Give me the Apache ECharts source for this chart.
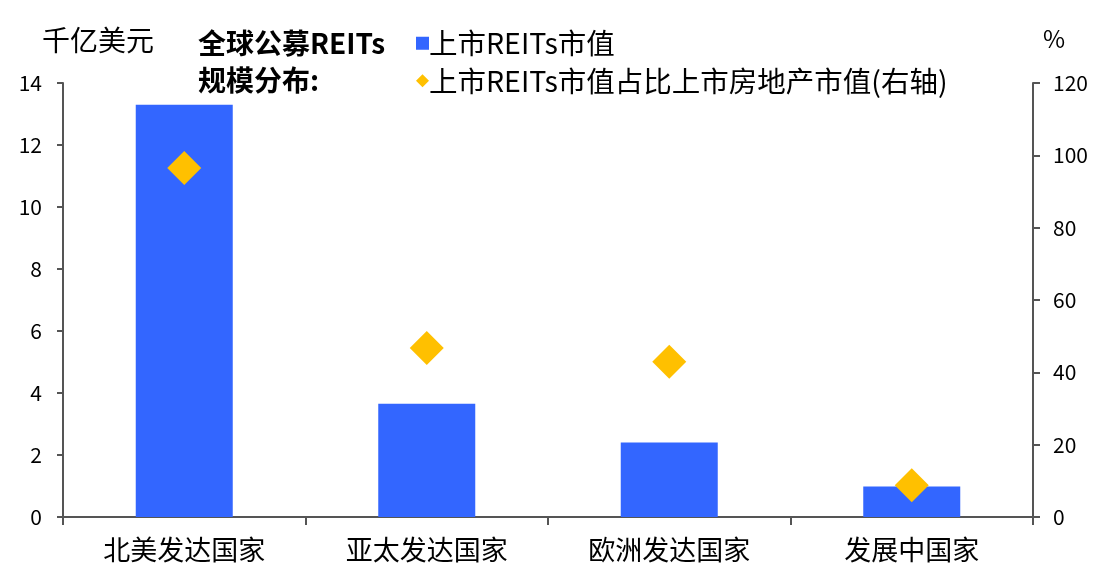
<!DOCTYPE html>
<html><head><meta charset="utf-8">
<script src="https://cdn.jsdelivr.net/npm/echarts@6/dist/echarts.min.js"></script>
<style>html,body{margin:0;padding:0;background:#fff}#c{width:1099px;height:571px}</style>
</head><body><div id="c"></div>
<script>
var categories = ['北美发达国家', '亚太发达国家', '欧洲发达国家', '发展中国家'];
var marketCap = [13.3, 3.65, 2.4, 0.98];
var shareOfRealEstate = [96.5, 46.7, 42.9, 8.8];
var leftTicks = {min: 0, max: 14, interval: 2};
var rightTicks = {min: 0, max: 120, interval: 20};
var seriesNames = ['上市REITs市值', '上市REITs市值占比上市房地产市值(右轴)'];

var FONT = '"Noto Sans CJK SC", "Noto Sans", sans-serif';
var axisLine = {show: true, lineStyle: {color: '#555', width: 2}};
var chart = echarts.init(document.getElementById('c'));
chart.setOption({
  backgroundColor: '#fff',
  animation: false,
  textStyle: {fontFamily: FONT},
  title: {
    text: '全球公募REITs\n规模分布:',
    left: 193, top: 20,
    textStyle: {fontFamily: FONT, fontSize: 28, fontWeight: 'bold', color: '#000', lineHeight: 37}
  },
  legend: {
    orient: 'vertical', left: 411, top: 24, itemGap: 9,
    itemWidth: 13, itemHeight: 13,
    textStyle: {fontFamily: FONT, fontSize: 28.5, color: '#000', lineHeight: 28, padding: [0, 0, 0, -5]},
    data: [{name: seriesNames[0], icon: 'rect'}, {name: seriesNames[1], icon: 'diamond'}]
  },
  graphic: [
    {type: 'text', left: 42, top: 26, style: {text: '千亿美元', font: '28px ' + FONT, fill: '#000'}},
    {type: 'text', left: 1043, top: 27, style: {text: '%', font: '24px ' + FONT, fill: '#000'}}
  ],
  grid: {left: 63, right: 66, top: 83, bottom: 54},
  xAxis: {
    type: 'category', data: categories,
    axisLine: axisLine,
    axisTick: {show: true, length: 8, lineStyle: {color: '#555', width: 2}},
    axisLabel: {fontFamily: FONT, fontSize: 27, color: '#000', margin: 19}
  },
  yAxis: [
    {
      type: 'value', min: leftTicks.min, max: leftTicks.max, interval: leftTicks.interval,
      axisLine: axisLine, splitLine: {show: false},
      axisTick: {show: true, length: 6, lineStyle: {color: '#555', width: 2}},
      axisLabel: {fontFamily: FONT, fontSize: 21, color: '#000', margin: 21}
    },
    {
      type: 'value', min: rightTicks.min, max: rightTicks.max, interval: rightTicks.interval,
      position: 'right',
      axisLine: axisLine, splitLine: {show: false},
      axisTick: {show: true, length: 7, lineStyle: {color: '#555', width: 2}},
      axisLabel: {fontFamily: FONT, fontSize: 21, color: '#000', margin: 20}
    }
  ],
  series: [
    {
      name: seriesNames[0], type: 'bar', data: marketCap, barWidth: '40%',
      itemStyle: {color: '#3366FF'}, yAxisIndex: 0
    },
    {
      name: seriesNames[1], type: 'scatter', data: shareOfRealEstate, yAxisIndex: 1,
      symbol: 'diamond', symbolSize: [34, 34], itemStyle: {color: '#FFC000', opacity: 1}, z: 5
    }
  ]
});
</script></body></html>
